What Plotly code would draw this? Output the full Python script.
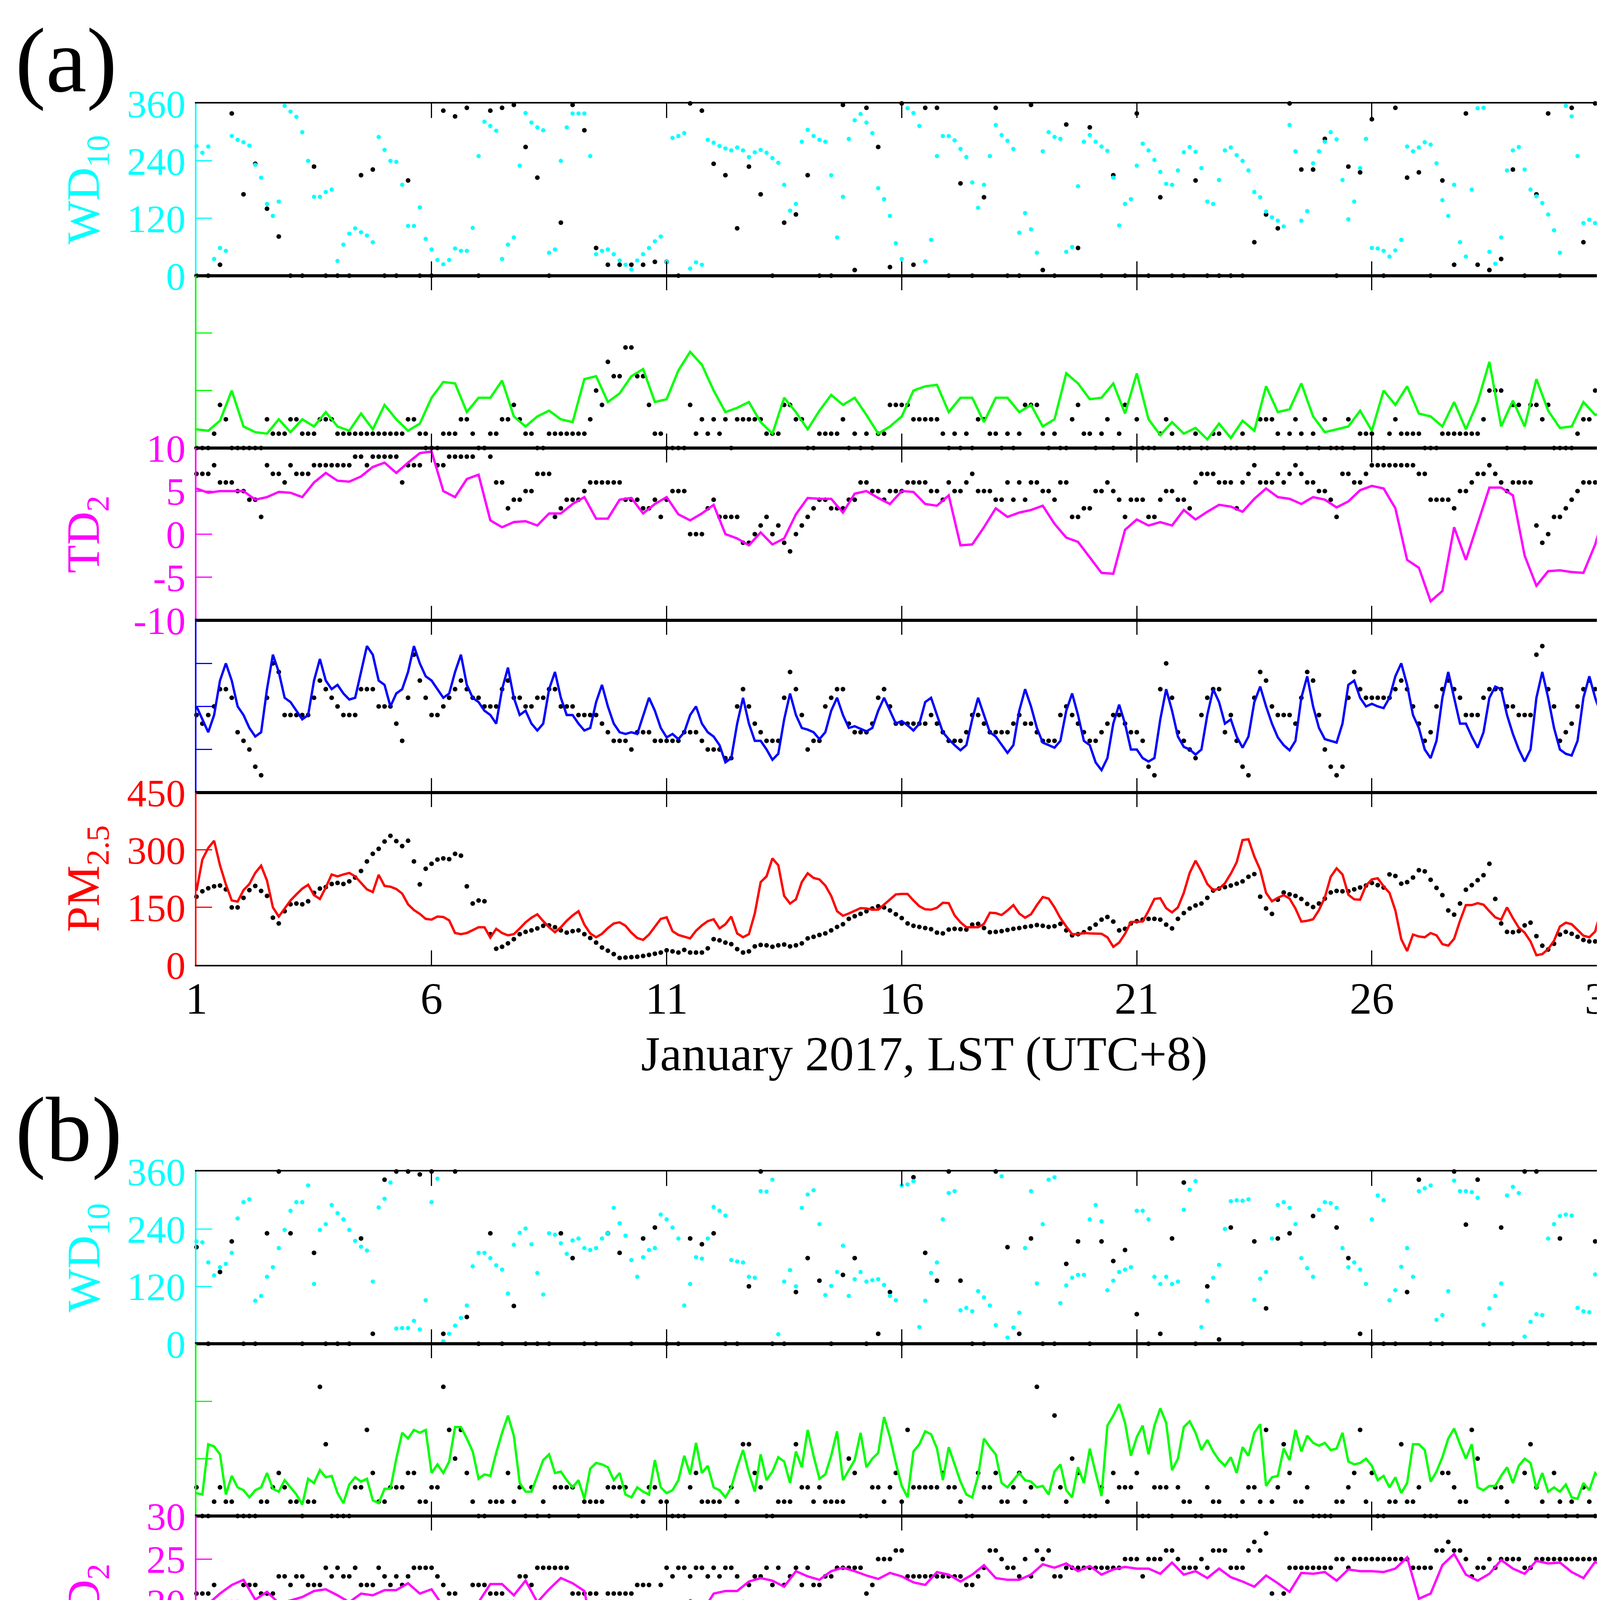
import numpy as np
import plotly.graph_objects as go

# ---------------------------------------------------------------------------
# Values.
#   8 per day (3-hourly from 00 LST) unless the list has 124 values,
#   which are 4 per day (00/06/12/18 LST).
#   *_mod = model (coloured), *_obs = observation (black dots)
# ---------------------------------------------------------------------------

# ---- (a) January 2017 ----
jan_wd_mod = [271, 257, 270, 35, 58, 52, 292, 284, 279, 272, 232, 205, 150, 125, 155, 355,
              343, 332, 300, 240, 165, 165, 175, 180, 31, 65, 88, 99, 91, 84, 70, 290,
              263, 240, 238, 190, 104, 104, 143, 77, 55, 33, 24, 33, 57, 52, 52, 100,
              250, 322, 313, 303, 35, 65, 80, 230, 340, 320, 310, 304, 48, 55, 240, 310,
              339, 339, 339, 250, 45, 52, 55, 45, 32, 23, 13, 32, 45, 58, 72, 82,
              29, 288, 292, 298, 15, 28, 23, 284, 278, 271, 266, 262, 268, 262, 248, 258,
              263, 257, 246, 236, 190, 136, 150, 280, 305, 292, 284, 280, 210, 80, 165, 286,
              325, 338, 320, 298, 183, 160, 125, 68, 35, 350, 340, 313, 30, 75, 250, 292,
              292, 283, 265, 248, 195, 142, 190, 250, 315, 294, 282, 265, 90, 131, 97, 48,
              260, 300, 290, 286, 50, 60, 187, 280, 294, 280, 270, 261, 205, 105, 150, 160,
              230, 276, 262, 242, 217, 192, 190, 220, 258, 269, 259, 225, 155, 150, 200, 262,
              268, 252, 240, 220, 175, 164, 134, 122, 115, 103, 315, 260, 115, 135, 235, 260,
              280, 300, 285, 200, 118, 155, 225, 286, 58, 57, 52, 40, 53, 75, 270, 260,
              268, 279, 274, 235, 158, 125, 190, 70, 40, 180, 350, 351, 50, 25, 80, 220,
              262, 269, 222, 180, 166, 152, 128, 95, 48, 355, 333, 250, 110, 117, 110, 92,
              82, 77, 72, 71, 71, 68, 64, 138]
jan_wd_obs = [0, 0, 23, 339, 170, 234, 140, 82, 0, 0, 228, 0, 0, 0, 210, 222, 0, 0, 199, 0,
              0, 345, 333, 351, 0, 345, 351, 357, 269, 205, 0, 111, 357, 304, 58, 23, 23, 23, 23, 29,
              29, 0, 360, 345, 234, 210, 99, 228, 170, 0, 111, 128, 210, 0, 0, 357, 12, 351, 269, 18,
              360, 23, 351, 351, 0, 193, 0, 164, 351, 0, 0, 357, 12, 0, 316, 58, 310, 0, 210, 0,
              339, 0, 164, 0, 0, 199, 0, 0, 0, 0, 70, 128, 99, 360, 222, 222, 286, 0, 228, 216,
              327, 0, 351, 205, 216, 0, 199, 23, 339, 23, 12, 35, 222, 0, 170, 339, 0, 351, 70, 360,
              351, 0, 29, 29]
jan_ws_mod = [1.3, 1.2, 1.9, 4, 1.5, 1.1, 1, 2, 1.1, 2, 1.5, 2.5, 1.5, 1.2, 2.4, 1.3, 3, 2, 1.2, 1.7,
              3.5, 4.6, 4.5, 2.5, 3.5, 3.5, 4.7, 2.2, 1.5, 2.2, 2.6, 2, 1.8, 4.8, 5, 3.2, 3.8, 5, 5.5, 3.2,
              3.4, 5.4, 6.7, 5.8, 4, 2.5, 2.8, 3.2, 1.8, 1, 3.5, 2.5, 1.3, 2.6, 3.7, 3, 3.5, 2.3, 1, 1.5,
              2.2, 4, 4.3, 4.4, 2.5, 3.5, 3.5, 1.8, 3.5, 3.5, 2.5, 3, 1.5, 2, 5.2, 4.5, 3.4, 3.5, 4.5, 2.4,
              5.2, 2, 0.9, 1.8, 1, 1.4, 0.6, 1.7, 0.7, 1.9, 1.2, 4.3, 2.5, 2.7, 4.5, 2.2, 1.1, 1.3, 1.5, 2.6,
              1.2, 4, 3, 4.3, 2.4, 2.2, 1.5, 3.2, 1.3, 3.2, 6, 1.5, 3.3, 1.5, 4.8, 2.6, 1.4, 1.5, 3.2, 2.3,
              2.6, 5.5, 5.6, 4.6]
jan_ws_obs = [0, 0, 0, 1, 3, 2, 0, 0, 0, 0, 0, 0, 2, 1, 1, 1, 2, 2, 1, 1, 1, 2, 2, 2,
              1, 1, 1, 1, 1, 1, 1, 1, 1, 1, 1, 1, 2, 2, 1, 1, 0, 0, 1, 1, 1, 2, 2, 1,
              0, 0, 1, 1, 2, 2, 3, 2, 1, 1, 0, 0, 1, 1, 1, 1, 1, 1, 1, 2, 4, 3, 6, 5,
              5, 7, 7, 5, 5, 3, 1, 1, 0, 0, 0, 0, 3, 1, 2, 1, 2, 1, 2, 0, 2, 2, 2, 2,
              2, 1, 1, 1, 3, 3, 2, 2, 0, 0, 1, 1, 1, 1, 2, 0, 1, 0, 1, 0, 1, 1, 3, 3,
              3, 3, 2, 2, 2, 2, 2, 1, 0, 1, 0, 1, 0, 2, 2, 1, 1, 0, 1, 0, 1, 3, 3, 3,
              1, 0, 1, 0, 0, 2, 3, 1, 1, 0, 1, 2, 0, 1, 3, 0, 2, 0, 0, 0, 1, 2, 1, 0,
              0, 0, 1, 0, 0, 1, 1, 0, 0, 0, 1, 0, 0, 2, 2, 2, 1, 0, 1, 2, 1, 0, 1, 0,
              2, 0, 0, 0, 2, 0, 1, 1, 1, 0, 0, 1, 2, 1, 1, 1, 1, 0, 0, 0, 1, 1, 1, 1,
              1, 1, 1, 2, 4, 4, 4, 0, 3, 3, 0, 3, 3, 2, 3, 0, 0, 0, 0, 1, 2, 2, 4, 3,
              2, 2, 1, 1, 1, 4, 2, 2]
jan_td_mod = [5.3, 4.8, 5, 5, 5, 4, 4.3, 4.9, 4.8, 4.3, 6, 7.1, 6.2, 6.1, 6.7, 7.8, 8.3, 7.1, 8.3, 9.4,
              9.6, 5, 4.3, 6.4, 6.9, 1.6, 0.8, 1.4, 1.5, 1, 2.4, 2.4, 3.5, 4.3, 1.8, 1.8, 4, 4.2, 2.4, 3.5,
              4.3, 2.3, 1.6, 2.4, 3.4, 0, -0.5, -1.3, 0.2, -1.2, -0.5, 2.3, 4.2, 4.1, 4.1, 2.5, 4.7, 5, 4.2, 3.5,
              5, 4.9, 3.5, 3.3, 4.5, -1.3, -1.2, 0.8, 3, 2, 2.5, 2.8, 3.3, 1.2, -0.4, -0.9, -2.7, -4.5, -4.6, 0.5,
              1.7, 1, 1.4, 1, 2.8, 1.7, 2.6, 3.4, 3.2, 2.6, 4.1, 5.3, 4.3, 4.1, 3.5, 4.3, 4, 3.1, 3.8, 5.1,
              5.6, 5.3, 3, -3, -3.9, -7.8, -6.6, 0.8, -3, 1.3, 5.4, 5.4, 4.5, -2.5, -6, -4.3, -4.2, -4.4, -4.5, -1.2,
              3.5, 2, -0.7, 0.6]
jan_td_obs = [7, 7, 7, 8, 6, 6, 6, 5, 5, 4, 4, 2, 8, 7, 7, 6, 8, 7, 7, 7, 8, 8, 8, 8,
              8, 8, 8, 9, 9, 8, 9, 9, 9, 9, 9, 6, 8, 8, 8, 10, 10, 8, 8, 9, 9, 9, 9, 9,
              10, 10, 9, 6, 6, 3, 4, 4, 5, 5, 7, 7, 7, 2, 3, 4, 4, 4, 5, 6, 6, 6, 6, 6,
              6, 4, 4, 4, 3, 3, 4, 2, 4, 5, 5, 5, 0, 0, 0, 3, 4, 2, 2, 2, 2, -1, -1, 0,
              1, 2, 0, 1, -1, -2, 0, 1, 2, 3, 4, 4, 3, 3, 3, 4, 4, 6, 6, 5, 5, 4, 5, 5,
              5, 6, 6, 6, 6, 5, 5, 4, 6, 5, 5, 6, 7, 5, 5, 5, 4, 4, 6, 4, 6, 4, 6, 6,
              5, 5, 4, 6, 6, 2, 2, 3, 3, 5, 5, 6, 5, 4, 2, 4, 4, 4, 2, 2, 4, 5, 5, 4,
              4, 3, 6, 7, 7, 7, 6, 6, 6, 3, 6, 7, 8, 6, 6, 6, 7, 6, 7, 8, 7, 6, 6, 5,
              5, 4, 2, 7, 7, 6, 6, 7, 8, 8, 8, 8, 8, 8, 8, 8, 7, 7, 4, 4, 4, 4, 3, 5,
              5, 6, 7, 7, 8, 7, 6, 5, 6, 6, 6, 6, 1, -1, 0, 2, 2, 3, 4, 5, 6, 6, 6, 7,
              7, 7, 6, 6, 7, 7, 7, 6]
jan_t2_mod = [10, 8.5, 7, 9, 13, 15, 13, 10, 9, 7.5, 6.5, 7, 12, 16, 14, 11,
              10.5, 9.5, 8.5, 9, 13, 15.5, 13, 12, 12.5, 11.5, 10.8, 11, 14, 17, 16, 13,
              12.5, 10, 11.5, 12, 14, 17, 15, 13.5, 13, 12, 11, 11.5, 14, 16, 12.5, 11,
              10.5, 9.5, 9, 8, 12, 14.5, 11, 9, 9.5, 8, 7.2, 8, 12, 14, 11, 9,
              9, 8, 7.2, 7.5, 10.5, 12.5, 10, 8, 7, 6.8, 7, 6.8, 9, 11, 9.5, 7.5,
              6.4, 6.8, 6.2, 7, 9, 10, 8, 7, 6.5, 5.5, 3.5, 4, 8, 11, 8, 6,
              6, 5, 3.8, 4.5, 8.5, 11.5, 9, 7.5, 7.3, 7, 6.2, 7, 9.5, 11, 9, 7.5,
              7.7, 7.4, 7.1, 7.5, 9.5, 11, 9.5, 8, 8.3, 7.8, 7.2, 8, 10.5, 11, 9, 7,
              6.2, 5.5, 4.9, 5.5, 8.5, 11, 9, 7, 6.5, 5.5, 4.6, 5.5, 9.5, 12, 10, 7.5,
              5.8, 5.5, 5.2, 6, 9.5, 11.5, 9, 6, 5.5, 3.5, 2.6, 4, 8, 10.2, 8, 5,
              5, 4, 3.6, 4, 8.5, 12, 9.5, 6.5, 5.3, 5, 4.4, 5, 9, 12, 10.5, 8,
              8.5, 6.5, 5.2, 6.5, 10.5, 12.3, 10, 8, 6.4, 5.5, 4.9, 6, 11, 13.5, 10, 7.5,
              6.2, 6, 5.8, 8, 12.5, 13, 11, 10, 10.3, 10, 9.8, 11, 13.5, 15, 12.5, 9,
              7.5, 5, 4, 6, 11, 14, 11, 8, 8, 6.5, 5.2, 7, 11, 12.3, 12, 9,
              6.8, 5, 3.6, 5, 11, 14, 11, 7.5, 5, 4.5, 4.3, 6, 11, 13.5, 11, 9,
              8.5, 6.5, 5.2, 6, 9, 11.5, 10, 8]
jan_t2_obs = [9, 8, 9, 10, 12, 12, 11, 7, 6, 5, 3, 2, 11, 15, 14, 9,
              9, 9, 9, 9, 11, 13, 12, 11, 10, 9, 9, 9, 12, 12, 12, 10,
              10, 10, 8, 6, 11, 16, 13, 11, 9, 9, 10, 11, 12, 13, 12, 11,
              11, 10, 10, 10, 12, 13, 11, 11, 10, 10, 11, 11, 12, 12, 10, 10,
              10, 9, 9, 9, 9, 8, 7, 6, 6, 6, 5, 7, 7, 7, 6, 6,
              6, 6, 6, 7, 7, 7, 6, 5, 5, 5, 4, 4, 10, 12, 10, 8,
              7, 6, 6, 6, 11, 14, 12, 9, 5, 6, 6, 10, 11, 12, 12, 8,
              7, 7, 7, 8, 11, 12, 10, 8, 8, 8, 8, 8, 8, 9, 8, 7,
              6, 6, 6, 7, 9, 9, 8, 7, 7, 7, 7, 8, 9, 8, 8, 7,
              6, 6, 6, 9, 10, 9, 8, 7, 6, 6, 7, 8, 9, 9, 8, 7,
              7, 6, 3, 2, 12, 15, 11, 7, 6, 5, 4, 9, 11, 12, 12, 7,
              9, 6, 3, 2, 11, 14, 13, 10, 9, 9, 9, 8, 11, 14, 13, 9,
              5, 3, 2, 3, 11, 14, 12, 11, 11, 11, 11, 11, 12, 13, 12, 10,
              8, 6, 7, 10, 12, 13, 12, 11, 9, 9, 9, 11, 12, 12, 12, 10,
              10, 9, 9, 9, 16, 17, 12, 10, 6, 7, 8, 10, 12, 13, 12, 10,
              9, 9, 9, 9, 11, 11, 11, 10]
jan_pm_mod = [193, 275, 305, 324, 260, 210, 168, 165, 195, 211, 240, 259, 220, 150, 126, 146,
              168, 184, 199, 209, 182, 172, 202, 236, 231, 236, 240, 231, 214, 197, 190, 235,
              206, 204, 198, 186, 158, 143, 133, 120, 118, 126, 125, 116, 83, 80, 83, 90,
              98, 98, 71, 94, 83, 77, 80, 95, 111, 123, 132, 114, 98, 85, 98, 115,
              129, 140, 105, 82, 72, 81, 96, 108, 111, 102, 84, 70, 65, 79, 100, 120,
              124, 88, 78, 74, 69, 89, 103, 114, 119, 95, 106, 126, 82, 72, 80, 134,
              216, 231, 278, 260, 180, 160, 171, 216, 239, 227, 223, 207, 180, 140, 128, 134,
              141, 148, 147, 144, 144, 158, 171, 184, 185, 185, 168, 153, 145, 144, 149, 162,
              161, 129, 111, 98, 98, 98, 107, 136, 135, 130, 142, 156, 134, 123, 132, 156,
              177, 173, 150, 122, 100, 80, 80, 83, 82, 81, 81, 72, 47, 58, 81, 112,
              112, 113, 141, 172, 174, 148, 137, 150, 188, 240, 272, 244, 211, 195, 199, 213,
              238, 268, 326, 328, 283, 248, 188, 166, 175, 182, 173, 147, 113, 115, 119, 143,
              176, 230, 252, 236, 183, 171, 170, 207, 223, 226, 205, 188, 142, 67, 36, 79,
              74, 72, 83, 77, 54, 50, 68, 115, 156, 156, 161, 157, 140, 124, 118, 150,
              122, 97, 84, 61, 25, 28, 41, 63, 100, 110, 106, 92, 76, 72, 87, 144,
              149, 141, 125, 103, 76, 76, 76, 105]
jan_pm_obs = [178, 192, 200, 205, 207, 197, 150, 150, 175, 195, 206, 193, 180, 123, 108, 140,
              158, 160, 158, 166, 188, 199, 203, 211, 214, 211, 218, 228, 245, 270, 290, 303,
              322, 337, 323, 310, 324, 270, 210, 251, 264, 275, 278, 276, 290, 285, 205, 160,
              168, 166, 80, 42, 47, 56, 67, 80, 86, 90, 95, 102, 103, 98, 90, 84,
              88, 90, 80, 70, 58, 45, 37, 28, 18, 19, 20, 21, 23, 26, 29, 32,
              38, 35, 32, 39, 32, 32, 32, 43, 67, 64, 58, 54, 41, 32, 35, 48,
              52, 51, 47, 51, 53, 48, 51, 56, 69, 73, 78, 82, 90, 99, 106, 120,
              127, 133, 140, 147, 153, 150, 142, 132, 122, 108, 102, 99, 96, 93, 84, 82,
              92, 94, 93, 92, 105, 107, 96, 85, 86, 88, 91, 94, 96, 99, 101, 104,
              102, 99, 101, 107, 90, 77, 80, 85, 95, 105, 118, 125, 113, 90, 94, 108,
              114, 118, 120, 120, 118, 105, 95, 120, 135, 147, 155, 160, 175, 194, 199, 203,
              207, 212, 218, 230, 237, 178, 147, 133, 170, 189, 184, 180, 172, 159, 151, 160,
              173, 189, 193, 192, 192, 197, 202, 207, 214, 208, 202, 236, 232, 212, 216, 228,
              247, 244, 222, 201, 182, 142, 131, 160, 196, 208, 221, 234, 264, 172, 108, 86,
              85, 88, 103, 110, 75, 50, 40, 55, 79, 86, 81, 73, 65, 61, 61, 62,
              68, 65, 60, 53, 44, 35, 26, 32]

# ---- (b) July 2017 ----
jul_wd_mod = [214, 212, 170, 143, 160, 167, 190, 262, 296, 302, 90, 100, 140, 160, 200, 238,
              278, 296, 296, 331, 125, 238, 250, 290, 273, 260, 238, 215, 203, 195, 130, 285,
              303, 337, 32, 33, 33, 48, 30, 91, 296, 345, 5, 21, 38, 54, 80, 162,
              190, 190, 179, 164, 155, 105, 207, 232, 241, 208, 148, 103, 231, 228, 210, 188,
              216, 220, 200, 196, 200, 220, 231, 284, 252, 226, 175, 140, 181, 196, 200, 270,
              260, 243, 220, 80, 125, 181, 178, 220, 286, 278, 268, 175, 172, 170, 140, 138,
              319, 318, 343, 20, 130, 154, 120, 284, 312, 321, 250, 102, 121, 150, 205, 100,
              135, 150, 130, 133, 135, 123, 100, 91, 331, 333, 340, 35, 90, 148, 170, 260,
              315, 319, 70, 75, 68, 110, 97, 80, 39, 350, 13, 34, 65, 200, 319, 126,
              250, 343, 348, 85, 122, 138, 144, 144, 260, 290, 256, 112, 132, 150, 155, 160,
              278, 278, 260, 140, 125, 140, 125, 130, 280, 322, 340, 35, 90, 138, 165, 240,
              298, 300, 299, 302, 92, 136, 150, 220, 290, 296, 284, 250, 179, 158, 140, 280,
              296, 294, 284, 200, 160, 170, 155, 125, 260, 310, 300, 91, 112, 161, 200, 140,
              319, 325, 331, 50, 60, 110, 341, 319, 319, 317, 305, 40, 74, 100, 126, 310,
              328, 315, 15, 46, 62, 60, 220, 250, 267, 270, 268, 75, 68, 66, 145, 200,
              264, 288, 303, 65, 108, 167, 132, 140]
jul_wd_obs = [202, 0, 150, 214, 0, 0, 231, 360, 231, 0, 190, 0, 0, 0, 220, 21, 343, 360, 360, 354,
              360, 21, 360, 56, 0, 231, 0, 79, 0, 0, 0, 231, 179, 0, 0, 231, 190, 0, 220, 243,
              0, 0, 220, 208, 231, 0, 0, 120, 360, 0, 0, 108, 179, 132, 0, 144, 179, 0, 21, 108,
              0, 348, 190, 132, 360, 132, 0, 0, 360, 202, 21, 220, 0, 0, 167, 214, 0, 214, 173, 196,
              62, 0, 21, 220, 337, 0, 120, 9, 243, 0, 214, 74, 220, 231, 0, 267, 0, 243, 179, 21,
              0, 0, 0, 108, 343, 0, 0, 360, 249, 343, 0, 243, 0, 360, 360, 0, 220, 0, 0, 214,
              0, 214, 173, 331]
jul_ws_mod = [1.6, 1.5, 5.0, 4.85, 4.3, 1.5, 2.8, 2.0, 1.8, 1.3, 1.8, 2, 3, 1.9, 1.7, 2.5,
              2, 1.5, 0.8, 2.6, 2.3, 3.2, 2.7, 2.8, 1.6, 0.9, 2.2, 2.7, 2.4, 2.6, 1.1, 0.9,
              1.9, 1.9, 4, 5.8, 5.4, 6, 5.8, 6, 3, 3.6, 3, 3.8, 6.2, 6.2, 5.4, 4.5,
              2.6, 2.9, 2.8, 4.4, 5.8, 7, 5.6, 2.3, 1.7, 1.7, 2.8, 3.9, 4.3, 3, 3.1, 2.5,
              2, 2.5, 1.2, 3.3, 3.7, 3.6, 3.4, 2.5, 3, 1.5, 1.3, 2, 1.7, 1.5, 3.9, 2,
              1.6, 1.8, 2.5, 4.2, 2.9, 5.1, 3, 3.5, 2, 1.8, 1.3, 2, 3.4, 4.6, 3, 1.7,
              4.3, 2.5, 3.1, 4.1, 3.8, 2.3, 4.5, 3.4, 6, 4.2, 2.6, 2.9, 4.2, 5.9, 2.5, 3.2,
              3.9, 5.8, 3.4, 4, 4.4, 6.9, 5.5, 3.7, 2.1, 1.3, 4.5, 5, 5.9, 5.7, 4.7, 2.5,
              4.8, 3.6, 2.4, 1.5, 1.3, 2.8, 5.4, 4.8, 4.3, 2.3, 2, 2.5, 3, 2.5, 2.4, 2,
              2.1, 1.5, 3.1, 3.6, 1.8, 1.3, 3.4, 2.3, 4.7, 3, 1.4, 6.3, 7, 7.8, 6.5, 4.2,
              5.5, 6.3, 4.3, 6.3, 7.5, 6.5, 3.2, 4, 6.2, 6.6, 5.8, 4.6, 5.3, 4.5, 3.9, 3.5,
              4.1, 3, 4.8, 4.2, 5.8, 6.4, 2.1, 2.7, 2.8, 4.7, 3.9, 6, 4.5, 5.6, 5.1, 4.9,
              5.1, 4.6, 4.7, 5.8, 3.8, 3.6, 3.7, 4, 3.5, 2.5, 2.8, 2, 2.7, 1.6, 2.3, 5,
              5, 4.6, 2.4, 3.1, 4.1, 5.4, 6.1, 5, 4, 5, 2, 1.8, 2.1, 2.1, 2.8, 3.4,
              2.3, 3.5, 4, 3.7, 1.9, 3, 1.7, 2, 1.7, 2.2, 1.3, 1.2, 2.3, 1.8, 3, 2.6,
              1.1, 3.3, 2.8, 3.4, 3, 3.3, 2.9, 1.7]
jul_ws_obs = [2, 0, 0, 1, 2, 1, 1, 0, 0, 0, 0, 1, 1, 2, 3, 2, 1, 1, 0, 1, 1, 9, 5, 0,
              0, 0, 0, 2, 2, 6, 3, 1, 1, 2, 2, 2, 3, 3, 1, 1, 2, 2, 9, 6, 4, 6, 3, 1,
              0, 0, 1, 1, 1, 3, 1, 2, 0, 2, 0, 1, 0, 2, 2, 2, 2, 0, 1, 1, 1, 1, 2, 2,
              2, 2, 0, 0, 1, 2, 2, 1, 1, 0, 0, 0, 2, 3, 1, 1, 1, 1, 0, 2, 1, 5, 5, 3,
              2, 0, 0, 1, 1, 1, 5, 2, 2, 1, 2, 1, 1, 1, 1, 4, 3, 0, 0, 2, 2, 1, 2, 3,
              1, 6, 2, 2, 2, 2, 2, 3, 2, 2, 1, 0, 0, 3, 2, 2, 3, 1, 1, 2, 3, 1, 2, 9,
              0, 0, 7, 2, 1, 4, 3, 0, 0, 0, 2, 1, 3, 2, 2, 2, 3, 0, 0, 2, 2, 2, 0, 2,
              1, 1, 0, 0, 2, 1, 1, 0, 0, 0, 1, 2, 2, 1, 6, 1, 2, 5, 3, 1, 1, 2, 0, 0,
              0, 0, 1, 1, 2, 3, 6, 1, 3, 0, 0, 1, 1, 5, 1, 1, 2, 0, 0, 0, 3, 3, 2, 1,
              1, 6, 4, 0, 0, 2, 2, 1, 0, 0, 3, 5, 2, 1, 0, 3, 1, 0, 1, 0, 2, 1, 0, 0,
              0, 0, 1, 1, 1, 0, 1, 0]
jul_td_mod = [19, 19.8, 21, 22, 22.6, 20.3, 21.2, 19.9, 20.2, 20.6, 21.3, 21.5, 20.8, 20, 21, 20.8, 21.4, 21.4, 22.2, 21,
              21.5, 19.5, 20.1, 18.2, 20, 22.1, 22.1, 20.8, 22.5, 20, 21.5, 22.8, 22.2, 21.3, 14.5, 16, 13.8, 13, 9.5, 14.6,
              11, 12.5, 20.3, 18.8, 21, 21.3, 21.3, 22.4, 22.8, 22.5, 21.8, 23.6, 23, 22.6, 23.6, 24, 23.6, 23.1, 22.7, 23.4,
              23, 22.3, 22, 23.5, 23.2, 22.4, 23.2, 24.3, 22.8, 22.6, 22.6, 23.2, 24.4, 24, 24.5, 23.6, 24.2, 23.2, 23.8, 24.1,
              23.9, 23.9, 23.3, 24.6, 23.2, 23.6, 22.8, 23.9, 22.9, 22.4, 21.8, 23.1, 22.2, 21.2, 23.4, 23.3, 23.5, 22.5, 23.8, 23.6,
              23.6, 23.5, 23.9, 25.2, 20.4, 21, 24.3, 25.6, 23.2, 22.5, 23.3, 24.9, 23.9, 23.3, 24.8, 24.5, 24.6, 23.5, 22.8, 24.7,
              23.8, 23.3, 21.5, 22.2]
jul_td_obs = [21, 21, 21, 22, 20, 20, 20, 20, 22, 22, 22, 21, 21, 21, 23, 23, 22, 23, 23, 22, 22, 22, 24, 23,
              24, 23, 23, 24, 22, 22, 22, 24, 23, 22, 23, 22, 23, 24, 24, 24, 24, 23, 22, 21, 21, 19, 18, 22,
              22, 22, 21, 21, 21, 20, 20, 23, 23, 22, 24, 24, 24, 24, 24, 24, 21, 21, 21, 21, 21, 20, 21, 21,
              21, 21, 21, 22, 22, 22, 19, 22, 24, 23, 24, 24, 23, 24, 24, 23, 24, 23, 24, 24, 23, 20, 22, 23,
              23, 24, 22, 24, 22, 23, 24, 22, 24, 22, 22, 23, 23, 24, 24, 24, 24, 24, 21, 22, 25, 25, 25, 26,
              26, 23, 23, 23, 23, 23, 23, 23, 23, 23, 23, 22, 22, 23, 24, 26, 26, 25, 24, 24, 23, 25, 23, 26,
              25, 26, 23, 23, 24, 24, 24, 24, 24, 24, 24, 24, 24, 24, 25, 25, 25, 23, 25, 25, 25, 26, 26, 25,
              24, 24, 24, 25, 24, 26, 26, 26, 24, 24, 24, 26, 27, 26, 28, 21, 20, 21, 24, 24, 24, 24, 24, 24,
              24, 24, 25, 25, 24, 25, 25, 25, 25, 25, 25, 25, 25, 25, 25, 24, 24, 24, 24, 26, 26, 27, 26, 26,
              25, 23, 24, 24, 25, 24, 25, 25, 25, 25, 24, 24, 25, 25, 25, 25, 25, 25, 25, 25, 25, 25, 25, 25,
              25, 25, 24, 24, 24, 25, 25, 25]
jul_t2_mod = [26.6, 25.3, 23, 29.5, 30.5, 32.1, 32.3, 28.5, 26.2, 24.5, 23.4, 26.5, 29.3, 32.2, 32.1, 28.8,
              26.6, 25.2, 24.4, 26.2, 29.5, 32, 32.4, 29.3, 26.8, 25, 24, 29, 34.4, 33, 34.8, 33,
              30.5, 26.3, 25.5, 24.8, 30, 32, 29.8, 29, 26.3, 24, 25.5, 29, 34.1, 35.8, 35.5, 32.8,
              30.4, 28, 27, 28.5, 34, 37, 34, 31.5, 27.5, 26, 25, 27.8, 33.3, 34.8, 33, 29.8,
              27.8, 24, 24.5, 29.5, 38.4, 39.8, 37, 31.5, 26.4, 24.2, 23.3, 29, 38.5, 40, 39.3, 35.5,
              31.5, 27.9, 27, 30.4, 37.5, 39.5, 36, 31.7, 30.2, 27.8, 26, 31, 35, 36, 33.7, 30,
              27.3, 26.4, 25, 30.5, 34.5, 33.6, 32, 28.5, 26.7, 25.8, 24.6, 25.5, 31, 31.5, 27.5, 28,
              26.4, 25, 24.6, 25.5, 30, 33.1, 33, 27, 25.7, 25, 22.9, 28, 33.3, 35, 35, 28,
              26, 25, 25, 26.5, 30.5, 34.1, 33.5, 25.5, 25, 24.5, 23.3, 27.8, 32, 34, 32.4, 31,
              29.8, 27.6, 26.5, 28.2, 31.5, 34.5, 33, 28.2, 25, 26, 24.5, 27, 30.7, 32.5, 32, 27.5,
              26, 25.5, 25.2, 27, 30.3, 31.5, 30.8, 26, 24.8, 25, 25, 25.5, 26.5, 28, 29, 24.7,
              24, 24.7, 24.5, 26.6, 31.5, 28.9, 25.5, 27, 24.5, 23.4, 23.8, 25, 26.5, 30, 28.2, 25.5,
              25, 23.7, 23.7, 24, 28.9, 29.5, 26.6, 25, 24.7, 24.6, 24.4, 26.5, 31, 32.1, 30.5, 29,
              23, 23.1, 23.7, 25, 30.5, 32, 28, 25.3, 24.7, 24.7, 24, 25.4, 30, 32.1, 31.7, 25.3,
              26.5, 25.3, 24.5, 27, 30.2, 31, 28.8, 26.5, 26, 25, 25, 27.9, 31.5, 33, 33, 30.2,
              29, 27, 24.5, 28.8, 31.8, 33.9, 33.3, 29.7]
jul_t2_obs = [25, 24, 22, 30, 32, 34, 32, 29, 27, 26, 24, 27, 31, 33, 31, 29,
              27, 26, 24, 27, 33, 35, 30, 27, 26, 24, 24, 28, 30, 32, 31, 29,
              27, 25, 22, 23, 25, 25, 25, 25, 24, 23, 23, 28, 31, 31, 31, 29,
              27, 25, 23, 22, 30, 34, 34, 33, 30, 29, 25, 29, 32, 31, 27, 26,
              25, 24, 22, 21, 28, 32, 35, 31, 28, 27, 25, 25, 32, 34, 37, 37,
              28, 27, 25, 30, 34, 38, 35, 33, 30, 27, 26, 30, 33, 38, 35, 29,
              27, 24, 25, 27, 33, 34, 28, 26, 23, 23, 23, 25, 27, 35, 32, 29,
              27, 25, 23, 24, 30, 34, 33, 29, 26, 25, 24, 27, 31, 35, 31, 29,
              27, 24, 24, 26, 31, 34, 33, 30, 26, 24, 24, 26, 30, 32, 32, 29,
              27, 27, 26, 28, 31, 34, 31, 29, 27, 26, 24, 29, 32, 35, 35, 30,
              26, 26, 26, 28, 30, 34, 34, 29, 24, 24, 24, 27, 32, 34, 29, 27,
              26, 24, 24, 30, 32, 35, 33, 26, 22, 24, 24, 26, 31, 33, 34, 31,
              27, 26, 26, 29, 32, 35, 33, 29, 26, 26, 26, 29, 32, 36, 35, 33,
              29, 26, 26, 29, 34, 35, 34, 31, 29, 23, 26, 29, 32, 36, 33, 31,
              27, 27, 27, 28, 30, 31, 29, 26, 25, 26, 27, 31, 33, 31, 30, 28,
              27, 27, 27, 28, 33, 34, 34, 31]
jul_o3_mod = [29, 15, 33, 85, 125, 183, 205, 120, 60, 35, 29, 70, 175, 260, 275, 190,
              29, 20, 25, 55, 170, 225, 225, 100, 25, 15, 25, 110, 185, 263, 256, 170,
              75, 40, 29, 90, 139, 150, 120, 93, 68, 50, 65, 105, 146, 146, 152, 115,
              60, 62, 75, 120, 158, 152, 125, 80, 48, 60, 72, 95, 125, 141, 135, 80,
              50, 33, 29, 95, 175, 220, 200, 80, 35, 25, 35, 95, 270, 329, 260, 160,
              55, 38, 23, 130, 238, 220, 320, 140, 65, 44, 40, 120, 200, 205, 212, 160,
              103, 75, 51, 95, 180, 183, 170, 110, 83, 75, 78, 115, 140, 146, 140, 110,
              70, 55, 53, 85, 115, 128, 120, 80, 85, 50, 25, 80, 165, 180, 160, 105,
              73, 68, 48, 90, 175, 193, 183, 135, 90, 75, 44, 100, 170, 188, 165, 146,
              65, 35, 32, 90, 160, 219, 205, 140, 125, 95, 82, 100, 145, 158, 135, 112,
              90, 75, 58, 60, 115, 125, 130, 95, 80, 80, 40, 60, 105, 160, 165, 95,
              55, 48, 40, 80, 150, 153, 160, 115, 70, 70, 58, 100, 125, 140, 140, 80,
              62, 58, 55, 100, 146, 145, 130, 70, 53, 47, 32, 80, 180, 175, 160, 110,
              58, 46, 60, 105, 165, 168, 146, 75, 73, 90, 58, 100, 150, 168, 135, 75,
              51, 33, 45, 95, 146, 146, 130, 85, 45, 23, 26, 115, 190, 207, 185, 105,
              58, 58, 70, 120, 180, 190, 175, 135]
jul_o3_obs = [58, 45, 29, 80, 130, 205, 205, 110, 51, 29, 29, 65, 180, 220, 135, 50,
              29, 15, 15, 40, 110, 200, 130, 80, 37, 15, 15, 30, 145, 150, 102, 80,
              66, 58, 58, 58, 58, 58, 58, 58, 51, 60, 70, 80, 110, 131, 125, 75,
              29, 15, 15, 15, 145, 225, 195, 90, 51, 37, 37, 60, 100, 110, 100, 70,
              58, 51, 55, 70, 139, 200, 110, 58, 45, 37, 29, 60, 183, 290, 305, 240,
              58, 51, 29, 110, 212, 265, 190, 110, 95, 95, 45, 110, 210, 212, 170, 124,
              110, 85, 58, 80, 200, 212, 180, 124, 85, 65, 40, 90, 185, 215, 200, 140,
              100, 80, 66, 80, 139, 177, 175, 120, 100, 115, 100, 80, 165, 212, 190, 140,
              100, 78, 51, 120, 175, 190, 150, 124, 90, 66, 58, 80, 117, 146, 153, 140,
              100, 66, 58, 95, 139, 146, 146, 110, 70, 48, 30, 95, 155, 168, 140, 100,
              80, 37, 29, 60, 110, 146, 160, 120, 80, 66, 48, 75, 120, 170, 120, 66,
              22, 22, 22, 80, 170, 219, 165, 110, 95, 90, 66, 100, 160, 230, 200, 120,
              62, 29, 29, 80, 185, 235, 140, 75, 55, 40, 45, 110, 200, 241, 175, 102,
              95, 80, 58, 58, 165, 226, 180, 120, 75, 70, 48, 90, 153, 230, 200, 120,
              70, 37, 37, 70, 105, 124, 100, 60, 51, 55, 120, 175, 205, 190, 130, 88,
              29, 22, 22, 60, 153, 215, 150, 60]

DAY_TICKS = [1, 6, 11, 16, 21, 26, 31]

# ---------------------------------------------------------------------------
W, H = 4546, 5554
X0, X1 = 469 / W, 4219 / W
XR = [1, 1 + 743 / 24]
SERIF = "Liberation Serif"
YTICK_FS = 100
XTICK_FS = 114
LABEL_FS = 118

CYAN, GREEN, MAGENTA, BLUE, RED = "#00ffff", "#00ff00", "#ff00ff", "#0000ff", "#ff0000"


def times(vals):
    per_day = len(vals) // 31
    return 1 + np.arange(len(vals)) / per_day


a_edges = [207, 657, 1107, 1557, 2007, 2457]
b_edges = [2997, 3447, 3897, 4347, 4797, 5246]

panels = [
    (a_edges, 0, [0, 360], [0, 120, 240, 360], CYAN, "left", "WD<sub>10</sub>", jan_wd_obs, jan_wd_mod, "markers"),
    (a_edges, 1, [0, 12], [0, 4, 8, 12], GREEN, "right", "WS<sub>10</sub>", jan_ws_obs, jan_ws_mod, "lines"),
    (a_edges, 2, [-10, 10], [-10, -5, 0, 5, 10], MAGENTA, "left", "TD<sub>2</sub>", jan_td_obs, jan_td_mod, "lines"),
    (a_edges, 3, [0, 20], [0, 5, 10, 15, 20], BLUE, "right", "T<sub>2</sub>", jan_t2_obs, jan_t2_mod, "lines"),
    (a_edges, 4, [0, 450], [0, 150, 300, 450], RED, "left", "PM<sub>2.5</sub>", jan_pm_obs, jan_pm_mod, "lines"),
    (b_edges, 0, [0, 360], [0, 120, 240, 360], CYAN, "left", "WD<sub>10</sub>", jul_wd_obs, jul_wd_mod, "markers"),
    (b_edges, 1, [0, 12], [0, 4, 8, 12], GREEN, "right", "WS<sub>10</sub>", jul_ws_obs, jul_ws_mod, "lines"),
    (b_edges, 2, [10, 30], [10, 15, 20, 25, 30], MAGENTA, "left", "TD<sub>2</sub>", jul_td_obs, jul_td_mod, "lines"),
    (b_edges, 3, [20, 40], [20, 25, 30, 35, 40], BLUE, "right", "T<sub>2</sub>", jul_t2_obs, jul_t2_mod, "lines"),
    (b_edges, 4, [0, 450], [0, 150, 300, 450], RED, "left", "O<sub>3</sub>", jul_o3_obs, jul_o3_mod, "lines"),
]

fig = go.Figure()
layout = {}
annotations = []

for i, (edges, k, yr, yt, col, side, label, obs, mod, mode) in enumerate(panels, 1):
    xa = "x" if i == 1 else f"x{i}"
    ya = "y" if i == 1 else f"y{i}"
    top, bot = edges[k], edges[k + 1]

    # black dots: observations
    fig.add_trace(go.Scatter(x=times(obs), y=obs, mode="markers",
                             marker=dict(color="black", size=12, line_width=0),
                             cliponaxis=False, xaxis=xa, yaxis=ya, showlegend=False))
    # coloured: model
    if mode == "markers":
        fig.add_trace(go.Scatter(x=times(mod), y=mod, mode="markers",
                                 marker=dict(color=col, size=11, line_width=0),
                                 cliponaxis=False, xaxis=xa, yaxis=ya, showlegend=False))
    else:
        fig.add_trace(go.Scatter(x=times(mod), y=mod, mode="lines",
                                 line=dict(color=col, width=6),
                                 xaxis=xa, yaxis=ya, showlegend=False))

    sfx = "" if i == 1 else str(i)
    layout["xaxis" + sfx] = dict(
        domain=[X0, X1], range=XR, anchor=ya, showline=True, linecolor="black", linewidth=4,
        mirror="ticks", ticks="inside", ticklen=37, tickwidth=3, tickcolor="black",
        tickvals=DAY_TICKS, showticklabels=(k == 4), ticklabelstandoff=-16,
        tickfont=dict(family=SERIF, size=XTICK_FS, color="black"),
        showgrid=False, zeroline=False)
    layout["yaxis" + sfx] = dict(
        domain=[1 - bot / H, 1 - top / H], range=yr, anchor=xa, side=side,
        showline=True, linecolor=col, linewidth=4, mirror="ticks",
        ticks="inside", ticklen=40, tickwidth=3, tickcolor=col,
        tickvals=yt, ticktext=[str(v) for v in yt], ticklabelstandoff=4,
        tickfont=dict(family=SERIF, size=YTICK_FS, color=col),
        showgrid=False, zeroline=False)

    annotations.append(dict(
        text=label, x=(187 if side == "left" else 4462) / W, y=1 - (top + bot) / 2 / H,
        xref="paper", yref="paper", xanchor="center", yanchor="middle",
        textangle=-90, showarrow=False, font=dict(family=SERIF, size=LABEL_FS, color=col)))

annotations += [
    dict(text="January 2017, LST (UTC+8)", x=(X0 + X1) / 2, y=1 - 2690 / H, xref="paper", yref="paper",
         xanchor="center", yanchor="middle", showarrow=False, font=dict(family=SERIF, size=125, color="black")),
    dict(text="July 2017, LST (UTC+8)", x=(X0 + X1) / 2, y=1 - 5466 / H, xref="paper", yref="paper",
         xanchor="center", yanchor="middle", showarrow=False, font=dict(family=SERIF, size=125, color="black")),
    dict(text="(a)", x=0, y=1 - 95 / H, xref="paper", yref="paper", xanchor="left", yanchor="middle",
         showarrow=False, font=dict(family=SERIF, size=235, color="black")),
    dict(text="(b)", x=0, y=1 - 2888 / H, xref="paper", yref="paper", xanchor="left", yanchor="middle",
         showarrow=False, font=dict(family=SERIF, size=235, color="black")),
]

fig.update_layout(
    width=W, height=H, margin=dict(l=0, r=0, t=0, b=0),
    paper_bgcolor="white", plot_bgcolor="white",
    font=dict(family=SERIF), annotations=annotations, **layout)

fig.write_html("out.html")
